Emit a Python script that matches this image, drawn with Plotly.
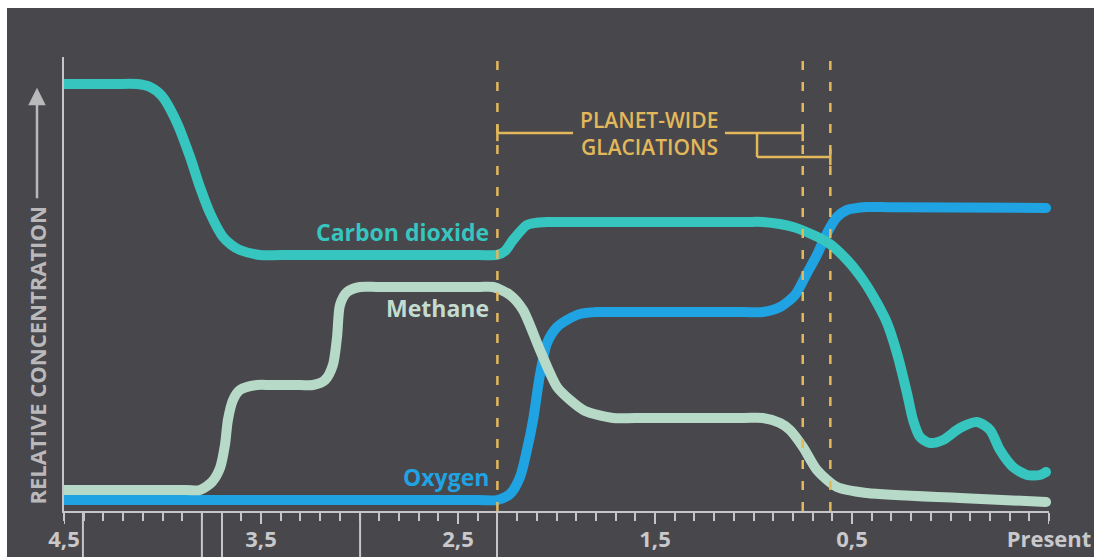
import plotly.graph_objects as go

# Time axis: billions of years ago (plotted left = oldest)
co2_t = [4.5, 4.25, 4.129, 4.063, 4.003, 3.926, 3.860, 3.810, 3.759, 3.693, 3.650, 3.607, 3.505, 3.40,
         2.40, 2.302, 2.261, 2.221, 2.150, 2.100, 2.048, 1.95, 1.05, 0.952, 0.799, 0.627, 0.525,
         0.444, 0.373, 0.322, 0.272, 0.221, 0.190, 0.155, 0.104, 0.038, -0.048, -0.135, -0.201,
         -0.251, -0.317, -0.388, -0.454, -0.485]
co2_v = [94.05, 94.05, 94.05, 93.39, 91.41, 85.46, 77.97, 71.37, 65.64, 60.35, 58.6, 57.49, 56.39,
         56.39, 56.39, 56.39, 57.27, 59.69, 62.99, 63.5, 63.66, 63.66, 63.66, 63.66, 62.56, 59.25,
         55.29, 50.88, 45.81, 41.41, 34.80, 25.99, 20.04, 16.30, 14.98, 15.64, 18.28, 19.60, 17.84,
         13.44, 9.69, 7.93, 7.93, 8.59]

ch4_t = [4.5, 4.3, 3.88, 3.810, 3.749, 3.708, 3.683, 3.668, 3.642, 3.607, 3.520, 3.45, 3.30, 3.236,
         3.175, 3.135, 3.114, 3.099, 3.063, 2.997, 2.90, 2.40, 2.322, 2.236, 2.170, 2.084, 1.997,
         1.931, 1.855, 1.713, 1.60, 1.05, 0.952, 0.865, 0.815, 0.749, 0.678, 0.576, 0.424, -0.048,
         -0.485]
ch4_v = [4.63, 4.63, 4.63, 4.63, 6.39, 9.47, 14.54, 20.04, 24.45, 26.65, 27.75, 27.75, 27.75, 27.75,
         28.85, 32.16, 38.33, 45.37, 48.24, 49.34, 49.34, 49.34, 49.34, 47.58, 44.27, 35.46, 27.31,
         24.45, 22.03, 20.48, 20.48, 20.48, 20.48, 19.38, 17.84, 14.10, 9.03, 5.29, 3.96, 2.86, 1.98]

o2_t = [4.5, 4.3, 2.40, 2.302, 2.236, 2.185, 2.150, 2.119, 2.084, 2.048, 1.997, 1.947, 1.881, 1.794,
        1.70, 1.05, 0.952, 0.865, 0.789, 0.728, 0.678, 0.627, 0.576, 0.525, 0.424, 0.30, -0.485]
o2_v = [2.42, 2.42, 2.42, 2.42, 3.74, 7.49, 13.44, 20.04, 29.96, 37.00, 40.53, 42.07, 43.39, 43.83,
        43.83, 43.83, 43.83, 44.93, 47.58, 52.42, 56.39, 61.23, 64.76, 66.30, 66.96, 66.9, 66.74]

tick_vals = [4.5, 3.5, 2.5, 1.5, 0.5, -0.5]
tick_text = ["4,5", "3,5", "2,5", "1,5", "0,5", "Present"]

glaciations = [2.30, 0.75, 0.61]
era_marks = [4.404, 3.80, 3.698, 2.997, 2.302]

series_names = ["Carbon dioxide", "Methane", "Oxygen"]

BG = "#48474c"
AXIS = "#c6c6c8"
GOLD = "#e3b85a"
C_CO2 = "#36c5bf"
C_CH4 = "#b7d9c8"
C_O2 = "#1fa3e2"

PLOT_H = 454  # plot-area height in px (used for pixel-length marks in paper units)

fig = go.Figure()

for t, v, col in [(o2_t, o2_v, C_O2), (ch4_t, ch4_v, C_CH4), (co2_t, co2_v, C_CO2)]:
    fig.add_trace(go.Scatter(x=t, y=v, mode="lines",
                             line=dict(color=col, width=10, shape="spline", smoothing=0.75),
                             hoverinfo="skip", showlegend=False, cliponaxis=False))
    # rounded end at the present-day side
    fig.add_trace(go.Scatter(x=[t[-1]], y=[v[-1]], mode="markers",
                             marker=dict(color=col, size=10, line=dict(width=0)),
                             hoverinfo="skip", showlegend=False, cliponaxis=False))

shapes = [
    # dark panel
    dict(type="rect", xref="paper", yref="paper", x0=-57 / 985, x1=1.1, y0=-0.2,
         y1=(557 - 8 - 46) / PLOT_H, fillcolor=BG, line=dict(width=0), layer="below"),
]
for g in glaciations:
    shapes.append(dict(type="line", x0=g, x1=g, yref="paper", y0=0, y1=1,
                       line=dict(color=GOLD, width=2.5, dash="9px,12px"), layer="above"))
for m in era_marks:
    shapes.append(dict(type="line", x0=m, x1=m, yref="paper", y0=0, y1=-0.2,
                       line=dict(color=AXIS, width=2)))
# longer marks at the labelled ticks
for tv in tick_vals:
    shapes.append(dict(type="line", x0=tv, x1=tv, yref="paper", y0=0, y1=-13 / PLOT_H,
                       line=dict(color=AXIS, width=2)))

# glaciation bracket
br_y, br_y2, cap = 83.26, 77.97, 1.8
br_left_end, br_right_start, br_branch = 1.916, 1.145, 0.982
bracket = [
    (glaciations[0], br_left_end, br_y, br_y),
    (br_right_start, glaciations[1], br_y, br_y),
    (br_branch, br_branch, br_y, br_y2),
    (br_branch, glaciations[2], br_y2, br_y2),
    (glaciations[0], glaciations[0], br_y - cap, br_y + cap),
    (glaciations[1], glaciations[1], br_y - cap, br_y + cap),
    (glaciations[2], glaciations[2], br_y2 - cap, br_y2 + cap),
]
for x0, x1, y0, y1 in bracket:
    shapes.append(dict(type="line", x0=x0, x1=x1, y0=y0, y1=y1, line=dict(color=GOLD, width=2.5)))

label_x = 2.333
annotations = [
    dict(x=1.530, y=86.1, text="PLANET-WIDE", showarrow=False, xanchor="center", yanchor="middle",
         font=dict(family="Open Sans", size=21, color=GOLD, weight=600)),
    dict(x=1.530, y=80.2, text="GLACIATIONS", showarrow=False, xanchor="center", yanchor="middle",
         font=dict(family="Open Sans", size=21, color=GOLD, weight=600)),
    dict(x=label_x, y=61.45, text=series_names[0], showarrow=False, xanchor="right", yanchor="middle",
         font=dict(family="Open Sans", size=23, color=C_CO2, weight=700)),
    dict(x=label_x, y=44.7, text=series_names[1], showarrow=False, xanchor="right", yanchor="middle",
         font=dict(family="Open Sans", size=23, color="#c3dccf", weight=700)),
    dict(x=label_x, y=7.5, text=series_names[2], showarrow=False, xanchor="right", yanchor="middle",
         font=dict(family="Open Sans", size=23, color=C_O2, weight=700)),
    dict(xref="paper", x=-27 / 985, y=34.25, text="RELATIVE CONCENTRATION", textangle=-90,
         showarrow=False, xanchor="center", yanchor="middle",
         font=dict(family="Open Sans", size=22, color="#b9b9bb", weight=700)),
    dict(xref="paper", x=-27 / 985, y=93.2, text="", showarrow=True, ax=0, ay=112,
         arrowhead=2, arrowsize=1.4, arrowwidth=2.5, arrowcolor="#b9b9bb"),
]

fig.update_layout(
    width=1094, height=557,
    margin=dict(l=64, r=45, t=57, b=46, autoexpand=False),
    paper_bgcolor="white", plot_bgcolor=BG,
    shapes=shapes, annotations=annotations,
    xaxis=dict(range=[4.5, -0.5], showgrid=False, zeroline=False, automargin=False,
               showline=True, linecolor=AXIS, linewidth=2,
               tickmode="array", tickvals=tick_vals, ticktext=tick_text,
               ticks="outside", ticklen=8, tickwidth=2, tickcolor=AXIS,
               tickfont=dict(family="Open Sans", size=22, color="#c9c9cb", weight=700),
               minor=dict(tickmode="linear", tick0=4.5, dtick=0.1, ticks="outside",
                          ticklen=8, tickwidth=2, tickcolor=AXIS)),
    yaxis=dict(range=[0, 100], showgrid=False, zeroline=False, showticklabels=False, automargin=False,
               showline=True, linecolor=AXIS, linewidth=2),
)

fig.write_html("out.html")
